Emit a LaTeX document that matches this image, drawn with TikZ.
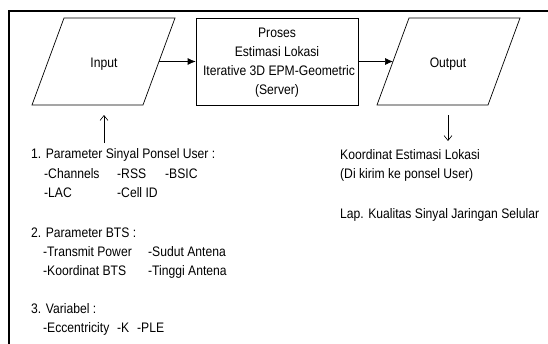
\documentclass[tikz,border=0pt]{standalone}
\usepackage{fontspec}
\setmainfont[FakeStretch=0.88]{Liberation Sans}
\usetikzlibrary{arrows.meta}
\begin{document}
\begin{tikzpicture}[x=1pt,y=-1pt,
  every node/.style={font=\fontsize{13.8}{19}\selectfont},
  shapeline/.style={draw,line width=0.7pt,line join=miter},
  procbox/.style={draw,line width=0.7pt,rectangle,minimum width=162pt,minimum height=87pt,inner sep=0pt,align=center},
  txt/.style={anchor=base west,inner sep=0pt},
  ctxt/.style={anchor=base,inner sep=0pt},
  flow/.style={line width=0.7pt,-{Latex[length=8pt,width=7pt]}},
  note/.style={line width=0.6pt,-{Straight Barb[length=5pt,width=8pt]}}]
\useasboundingbox (0,0) rectangle (548,343);
\clip (0,0) rectangle (548,343);
\fill[white] (0,0) rectangle (548,343);
% frame
\draw[line width=1.3pt] (560,11) -- (9,11) -- (9,360);
% input parallelogram
\draw[shapeline] (64,18) -- (175,18) -- (143,105) -- (32,105) -- cycle;
\node[ctxt] (in) at (104,67) {Input};
\coordinate (inE) at (159,61.5);
% process
\node[procbox] (proc) at (277,61.5) {};
\node[ctxt] (p1) at (277,37.5) {Proses};
\node[ctxt] (p2) at (277,56.5) {Estimasi Lokasi};
\node[ctxt] (p3) at (279,75.5) {Iterative 3D EPM-Geometric};
\node[ctxt] (p4) at (277,94.5) {(Server)};
% output parallelogram
\draw[shapeline] (409,18) -- (520,18) -- (488,105) -- (377,105) -- cycle;
\node[ctxt] (out) at (448,67.5) {Output};
\coordinate (outW) at (393,61.5);
\draw[flow] (inE) -- (proc.west);
\draw[flow] (proc.east) -- (outW);
% vertical arrows
\coordinate (ua) at (104,143);
\coordinate (ub) at (104,115);
\draw[note] (ua) -- (ub);
\coordinate (da) at (448,115);
\coordinate (db) at (448,141);
\draw[note] (da) -- (db);
% left texts
\node[txt] (t1) at (31,158.5) {1. Parameter Sinyal Ponsel User :};
\node[txt] (t1a) at (44,178) {-Channels};
\node[txt] (t1b) at (117,178) {-RSS};
\node[txt] (t1c) at (165,178) {-BSIC};
\node[txt] (t1d) at (44,197.5) {-LAC};
\node[txt] (t1e) at (117,197.5) {-Cell ID};
\node[txt] (t2) at (31,237.5) {2. Parameter BTS :};
\node[txt] (t2a) at (43,256.5) {-Transmit Power};
\node[txt] (t2b) at (148,256.5) {-Sudut Antena};
\node[txt] (t2c) at (43,275.5) {-Koordinat BTS};
\node[txt] (t2d) at (148,275.5) {-Tinggi Antena};
\node[txt] (t3) at (31,313.5) {3. Variabel :};
\node[txt] (t3a) at (43,332.5) {-Eccentricity};
\node[txt] (t3b) at (117,332.5) {-K};
\node[txt] (t3c) at (137,332.5) {-PLE};
% right texts
\node[txt] (r1) at (340,159.5) {Koordinat Estimasi Lokasi};
\node[txt] (r2) at (340,178.5) {(Di kirim ke ponsel User)};
\node[txt] (r3) at (340,218) {Lap. Kualitas Sinyal Jaringan Selular};
\end{tikzpicture}
\end{document}
